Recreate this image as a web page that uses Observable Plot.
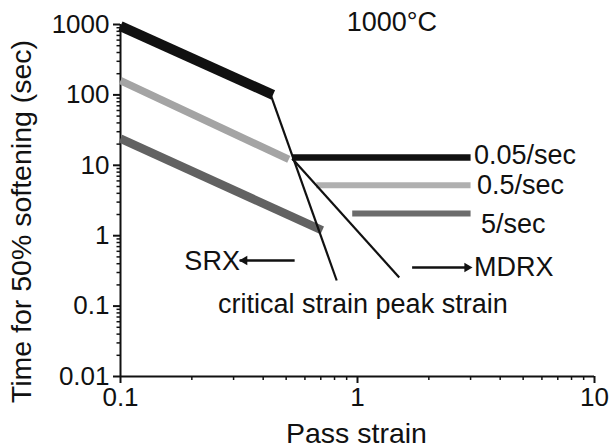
<!DOCTYPE html>
<html>
<head>
<meta charset="utf-8">
<script src="https://cdn.jsdelivr.net/npm/d3@7"></script>
<script src="https://cdn.jsdelivr.net/npm/@observablehq/plot@0.6"></script>
<style>
  html, body { margin: 0; padding: 0; background: #fff; }
  #chart { width: 610px; height: 448px; }
  svg { font-family: "Liberation Sans", Arial, sans-serif; }
</style>
</head>
<body>
<div id="chart"></div>
<script>
// ---- data ----
const strainRates   = ["0.05/sec", "0.5/sec", "5/sec"];
const srxColors     = ["#111111", "#a4a4a4", "#626262"];
const mdrxColors    = ["#111111", "#b0b0b0", "#6c6c6c"];
const srxWidths     = [10, 7.5, 8.5];
const mdrxWidths    = [6.5, 6, 6];

const srxStartStrain = [0.1, 0.1, 0.1];
const srxStartTime   = [950, 160, 24];
const srxEndStrain   = [0.44, 0.513, 0.71];
const srxEndTime     = [100, 12.1, 1.19];

const mdrxStartStrain = [0.53, 0.67, 0.95];
const mdrxEndStrain   = [3.0, 3.0, 3.0];
const mdrxTime        = [12.9, 5.2, 2.07];

const criticalStrainLine = {x1: 0.43, y1: 101, x2: 0.817, y2: 0.231};
const peakStrainLine     = {x1: 0.53, y1: 12.5, x2: 1.50, y2: 0.255};

const rateLabelX = [3.1, 3.19, 3.32];
const rateLabelY = [13.8, 5.2, 1.45];

const xTicks = [0.1, 1, 10];
const yTicks = [0.01, 0.1, 1, 10, 100, 1000];
const minorSteps = [2, 3, 4, 5, 6, 7, 8, 9];
const xMinor = [0.1, 1].flatMap(d => minorSteps.map(m => m * d));
const yMinor = [0.01, 0.1, 1, 10, 100].flatMap(d => minorSteps.map(m => m * d));

const annotations = [
  {text: "1000°C", x: 0.90, y: 1070},
  {text: "SRX", x: 0.186, y: 0.43},
  {text: "MDRX", x: 3.1, y: 0.353},
  {text: "critical strain peak strain", x: 0.258, y: 0.105}
];
const srxArrow  = {x1: 0.543, x2: 0.318, y: 0.444};
const mdrxArrow = {x1: 1.70, x2: 2.90, y: 0.353};

// axis titles (placed in scale coordinates, outside the frame)
const xTitle = {text: "Pass strain", x: 0.99, y: 0.00155};
const yTitle = {text: "Time for 50% softening (sec)", x: 0.0384, y: 1.59};

// ---- tables built from arrays ----
const srx = strainRates.map((r, i) => ({rate: r, x1: srxStartStrain[i], y1: srxStartTime[i], x2: srxEndStrain[i], y2: srxEndTime[i], c: srxColors[i], w: srxWidths[i]}));
const mdrx = strainRates.map((r, i) => ({rate: r, x1: mdrxStartStrain[i], x2: mdrxEndStrain[i], y: mdrxTime[i], c: mdrxColors[i], w: mdrxWidths[i]}));
const rateLabels = strainRates.map((r, i) => ({text: r, x: rateLabelX[i], y: rateLabelY[i]}));

const fontSize = 27;

const chart = Plot.plot({
  width: 610,
  height: 448,
  marginLeft: 120,
  marginRight: 16,
  marginTop: 24,
  marginBottom: 72,
  style: {fontFamily: "Liberation Sans, Arial, sans-serif", background: "#fff", color: "#111"},
  x: {type: "log", domain: [0.1, 10]},
  y: {type: "log", domain: [0.01, 1000]},
  marks: [
    // axes
    Plot.axisX({ticks: xTicks, tickSize: 7, tickPadding: 4, tickFormat: d => String(d), fontSize: 26, label: null, strokeWidth: 2}),
    Plot.axisX({ticks: xMinor, tickSize: 4, tickFormat: () => "", label: null, strokeWidth: 1.5}),
    Plot.axisY({ticks: yTicks, tickSize: 7, tickPadding: 4, tickFormat: d => String(d), fontSize: 26, label: null, strokeWidth: 2}),
    Plot.axisY({ticks: yMinor, tickSize: 3.5, tickFormat: () => "", label: null, strokeWidth: 1.5}),
    Plot.ruleX([0.1], {stroke: "#111", strokeWidth: 2}),
    Plot.ruleY([0.01], {stroke: "#111", strokeWidth: 2}),
    // SRX lines
    Plot.link(srx, {x1: "x1", y1: "y1", x2: "x2", y2: "y2", stroke: d => d.c, strokeWidth: d => d.w, strokeLinecap: "butt"}),
    // MDRX lines
    Plot.link(mdrx, {x1: "x1", y1: "y", x2: "x2", y2: "y", stroke: d => d.c, strokeWidth: d => d.w, strokeLinecap: "butt"}),
    // critical & peak strain lines
    Plot.link([criticalStrainLine, peakStrainLine], {x1: "x1", y1: "y1", x2: "x2", y2: "y2", stroke: "#111", strokeWidth: 2.2}),
    // arrows
    Plot.link([srxArrow, mdrxArrow], {x1: "x1", x2: "x2", y1: "y", y2: "y", stroke: "#111", strokeWidth: 2.5}),
    Plot.dot([srxArrow], {x: "x2", y: "y", symbol: "triangle2", r: 4.5, fill: "#111", rotate: -90, dx: 5}),
    Plot.dot([mdrxArrow], {x: "x2", y: "y", symbol: "triangle2", r: 4.5, fill: "#111", rotate: 90, dx: 0}),
    // labels
    Plot.text(rateLabels, {x: "x", y: "y", text: "text", textAnchor: "start", fontSize, fill: "#111"}),
    Plot.text(annotations, {x: "x", y: "y", text: "text", textAnchor: "start", fontSize, fill: "#111"}),
    // axis titles
    Plot.text([xTitle], {x: "x", y: "y", text: "text", textAnchor: "middle", lineAnchor: "middle", fontSize: 28.5, fill: "#111"}),
    Plot.text([yTitle], {x: "x", y: "y", text: "text", textAnchor: "middle", lineAnchor: "middle", rotate: -90, fontSize: 28.5, fill: "#111"})
  ]
});
document.getElementById("chart").appendChild(chart);
</script>
</body>
</html>
